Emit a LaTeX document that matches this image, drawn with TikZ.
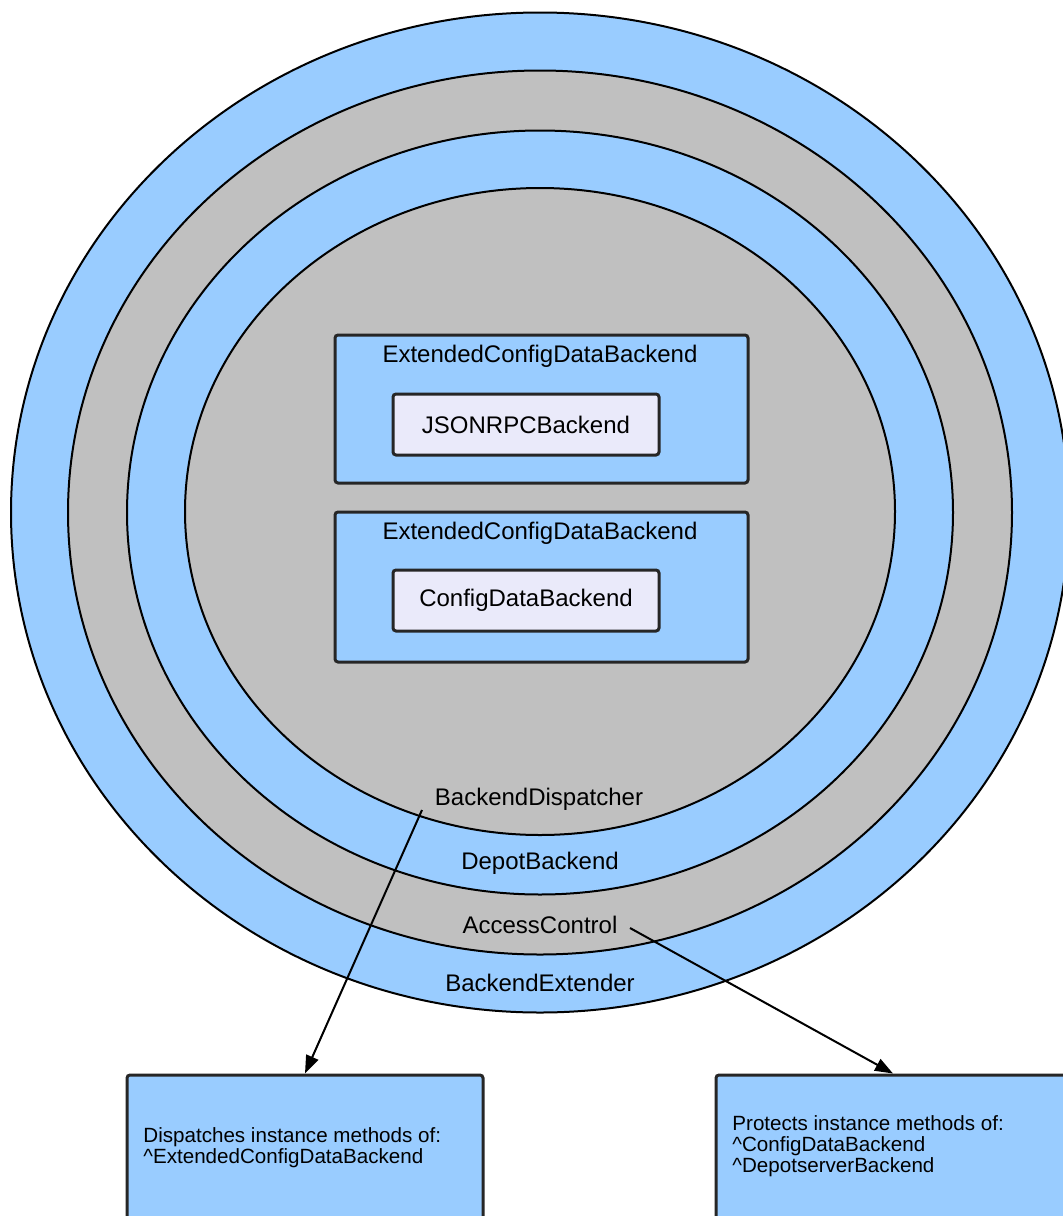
\documentclass[tikz,border=0pt]{standalone}
\usepackage{fontspec}
\setmainfont{Liberation Sans}
\usetikzlibrary{shapes.geometric,arrows.meta}
\definecolor{ringblue}{HTML}{99CCFF}
\definecolor{ringgray}{HTML}{C0C0C0}
\definecolor{lav}{HTML}{EAEAFA}
\tikzset{
  ring/.style={ellipse, draw=black, line width=1pt, inner sep=0pt},
  outerbox/.style={rectangle, draw=black!85, line width=1.5pt, fill=ringblue, rounded corners=1.5pt, inner sep=0pt},
  innerbox/.style={rectangle, draw=black!85, line width=1.5pt, fill=lav, rounded corners=1.5pt, inner sep=0pt, font=\fontsize{12}{14}\selectfont},
  lbl/.style={font=\fontsize{12}{14}\selectfont, inner sep=0pt},
  note/.style={font=\fontsize{10.3}{10.5}\selectfont, align=left, inner sep=0pt, anchor=west},
  arr/.style={line width=1pt, -{Triangle[length=9pt,width=6.5pt]}}
}
\begin{document}
\begin{tikzpicture}[x=0.5pt,y=-0.5pt]
\useasboundingbox (0,0) rectangle (1063,1216);
\clip (0,0) rectangle (1063,1216);
\fill[white] (0,0) rectangle (1063,1216);
% rings
\node[ring, fill=ringblue, minimum width=529pt, minimum height=500pt] (extender) at (540,512.5) {};
\node[ring, fill=ringgray, minimum width=472pt, minimum height=442pt] (access) at (540,512.5) {};
\node[ring, fill=ringblue, minimum width=413pt, minimum height=382pt] (depot) at (540,512.5) {};
\node[ring, fill=ringgray, minimum width=355pt, minimum height=323.5pt] (dispatcher) at (540,511.5) {};
% boxes
\node[outerbox, minimum width=206.5pt, minimum height=74pt] (ecdb1) at (541.5,409) {};
\node[lbl] (ecdb1lbl) at (540,356) {ExtendedConfigDataBackend};
\node[innerbox, minimum width=133pt, minimum height=30.5pt] (jsonrpc) at (526,424.5) {JSONRPCBackend};
\node[outerbox, minimum width=206.5pt, minimum height=75pt] (ecdb2) at (541.5,587) {};
\node[lbl] (ecdb2lbl) at (540,533) {ExtendedConfigDataBackend};
\node[innerbox, minimum width=133pt, minimum height=30.5pt] (configdata) at (526,600.5) {ConfigDataBackend};
% ring labels
\node[lbl] (lbldispatcher) at (539,799) {BackendDispatcher};
\node[lbl] (lbldepot) at (540,863) {DepotBackend};
\node[lbl] (lblaccess) at (540,925) {AccessControl};
\node[lbl] (lblextender) at (540,983) {BackendExtender};
% bottom boxes
\node[outerbox, minimum width=178pt, minimum height=77.5pt] (leftbox) at (305,1152.5) {};
\node[outerbox, minimum width=177pt, minimum height=77.5pt] (rightbox) at (893,1152.5) {};
\node[note] (lefttext) at (143,1147.5) {Dispatches instance methods of:\\\^{}ExtendedConfigDataBackend};
\node[note] (righttext) at (732,1146) {Protects instance methods of:\\\^{}ConfigDataBackend\\\^{}DepotserverBackend};
% arrows
\coordinate (dstart) at (422,810);
\coordinate (astart) at (630,928);
\draw[arr] (dstart) -- (leftbox.north);
\draw[arr] (astart) -- (rightbox.north);
\end{tikzpicture}
\end{document}
